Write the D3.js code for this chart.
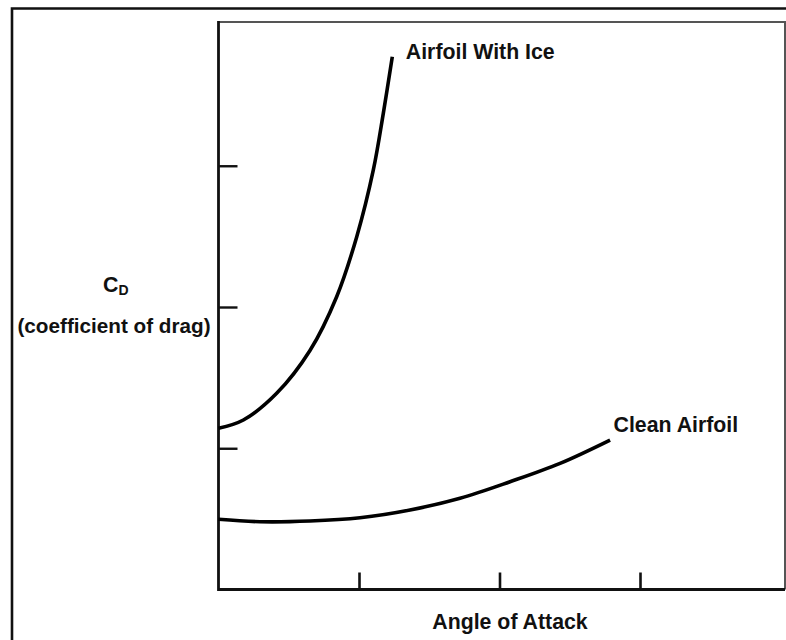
<!DOCTYPE html>
<html>
<head>
<meta charset="utf-8">
<script src="https://cdn.jsdelivr.net/npm/d3@7"></script>
<style>
  html, body { margin: 0; padding: 0; background: #fff; }
  svg { display: block; }
  text { font-family: "Liberation Sans", Arial, Helvetica, sans-serif; font-weight: bold; fill: #111; }
</style>
</head>
<body>
<svg id="chart" width="786" height="640"></svg>
<script>
// ---- data (arbitrary units) ----
const iceAngle   = [0, 0.177, 0.414, 0.651, 0.841, 0.984, 1.102, 1.173, 1.237];
const iceDrag    = [1.141, 1.200, 1.389, 1.692, 2.073, 2.498, 2.970, 3.371, 3.772];
const cleanAngle = [0, 0.295, 0.651, 1.007, 1.363, 1.719, 2.075, 2.431, 2.787];
const cleanDrag  = [0.497, 0.480, 0.485, 0.508, 0.563, 0.646, 0.763, 0.893, 1.058];
const xTicks = [1, 2, 3];
const yTicks = [1, 2, 3];
const seriesLabels = ["Airfoil With Ice", "Clean Airfoil"];
const xTitle = "Angle of Attack";
const yTitleMain = "C";
const yTitleSub = "D";
const yTitleNote = "(coefficient of drag)";

// ---- layout ----
const svg = d3.select("#chart");
const mLeft = 218.5, mBottom = 589.5, mTop = 22, mRight = 785;
const x = d3.scaleLinear().domain([0, 4]).range([mLeft, 780.5]);
const y = d3.scaleLinear().domain([0, 4]).range([mBottom, 24.5]);
const FS = 21.3;

// outer frame (extends past the right/bottom edges)
svg.append("path")
  .attr("d", `M12,650 L12,8.5 L800,8.5`)
  .attr("fill", "none").attr("stroke", "#111").attr("stroke-width", 2.6);

// plot box top and right (thinner, grey)
svg.append("path")
  .attr("d", `M${mLeft},${mTop} L${mRight},${mTop} L${mRight},${mBottom}`)
  .attr("fill", "none").attr("stroke", "#555").attr("stroke-width", 2);

// axes with inward ticks
const xAxis = d3.axisBottom(x).tickValues(xTicks).tickSize(-17).tickFormat("");
const yAxis = d3.axisLeft(y).tickValues(yTicks).tickSize(-19).tickFormat("");

const gx = svg.append("g").attr("transform", `translate(0,${mBottom})`).call(xAxis);
gx.select(".domain").remove();
gx.selectAll(".tick line").attr("stroke", "#111").attr("stroke-width", 2.6);

const gy = svg.append("g").attr("transform", `translate(${mLeft},0)`).call(yAxis);
gy.select(".domain").remove();
gy.selectAll(".tick line").attr("stroke", "#111").attr("stroke-width", 2.4);

// axis lines
svg.append("line").attr("x1", mLeft).attr("x2", mRight).attr("y1", mBottom).attr("y2", mBottom)
  .attr("stroke", "#111").attr("stroke-width", 2.8);
svg.append("line").attr("x1", mLeft).attr("x2", mLeft).attr("y1", mTop - 1).attr("y2", mBottom + 1.4)
  .attr("stroke", "#111").attr("stroke-width", 2.8);

// curves
const line = d3.line().x(d => x(d[0])).y(d => y(d[1])).curve(d3.curveCatmullRom.alpha(0.5));
const ice = iceAngle.map((a, i) => [a, iceDrag[i]]);
const clean = cleanAngle.map((a, i) => [a, cleanDrag[i]]);

[ice, clean].forEach(s => {
  svg.append("path").datum(s).attr("d", line)
    .attr("fill", "none").attr("stroke", "#000").attr("stroke-width", 3.6)
    .attr("stroke-linecap", "butt");
});

// curve labels
const iceEnd = ice[ice.length - 1];
const cleanEnd = clean[clean.length - 1];
svg.append("text").attr("x", x(iceEnd[0]) + 13.5).attr("y", y(iceEnd[1]) + 1.8)
  .attr("font-size", FS).text(seriesLabels[0]);
svg.append("text").attr("x", x(cleanEnd[0]) + 3.5).attr("y", y(cleanEnd[1]) - 7.6)
  .attr("font-size", FS).text(seriesLabels[1]);

// axis titles
svg.append("text").attr("x", 510).attr("y", 628.5)
  .attr("text-anchor", "middle").attr("font-size", FS).text(xTitle);

const yt = svg.append("text").attr("x", 103).attr("y", 292).attr("font-size", FS);
yt.append("tspan").text(yTitleMain);
yt.append("tspan").attr("font-size", 14).attr("dy", 3).text(yTitleSub);

svg.append("text").attr("x", 114).attr("y", 332.5)
  .attr("text-anchor", "middle").attr("font-size", 20.7).text(yTitleNote);
</script>
</body>
</html>
